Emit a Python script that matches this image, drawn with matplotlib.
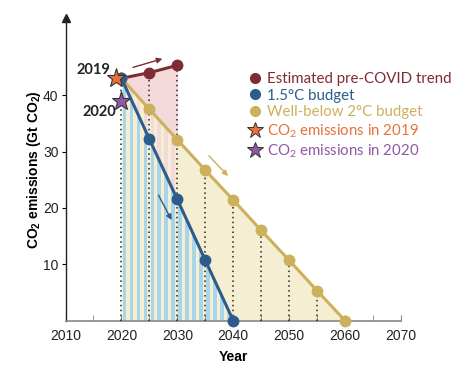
import matplotlib
matplotlib.use("Agg")
import matplotlib.pyplot as plt
import numpy as np
from matplotlib.lines import Line2D

plt.rcParams['mathtext.default'] = 'regular'

# ---- data ----
trend_years = [2020, 2025, 2030]
trend_vals = [43.0, 44.0, 45.3]
b15_years = [2020, 2025, 2030, 2035, 2040]
b15_vals = [43.0, 32.2, 21.5, 10.7, 0.0]
b2_years = [2020, 2025, 2030, 2035, 2040, 2045, 2050, 2055, 2060]
b2_vals = [43.0, 37.5, 32.1, 26.7, 21.4, 16.0, 10.7, 5.3, 0.0]
star2019 = (2019, 43.0)
star2020 = (2020, 39.0)
x_ticks = [2010, 2020, 2030, 2040, 2050, 2060, 2070]
y_ticks = [10, 20, 30, 40]

C_RED = '#7E2B36'
C_BLUE = '#2B5C8C'
C_GOLD = '#CDB05C'
C_ORANGE = '#E8703A'
C_PURPLE = '#9058A6'
C_PINK = '#F3D9D9'
C_YEL = '#F6EED2'
C_STRIPE = '#A8D5E8'

fig = plt.figure(figsize=(4.72, 3.71), dpi=100)
ax = fig.add_axes([0.1388, 0.1358, 0.7108, 0.8157])
ax.set_xlim(2010, 2070)
ax.set_ylim(0, 53.7)

period = 1.25
starts = np.arange(b15_years[0] + 0.2, b15_years[-1], period)

# fills
b2_on_trend = np.interp(trend_years, b2_years, b2_vals)
ax.fill_between(trend_years, b2_on_trend, trend_vals, color=C_PINK, lw=0, zorder=1)
ax.fill_between(b2_years, 0, b2_vals, color=C_YEL, lw=0, zorder=1)
# pink stripes under the trend region
trend_poly = ax.fill_between(trend_years, 0, trend_vals, color='none', lw=0, zorder=1)
pbars = ax.bar(starts, [max(trend_vals)] * len(starts), width=period * 0.5, align='edge',
               color=C_PINK, lw=0, zorder=1.2)
for b in pbars:
    b.set_clip_path(trend_poly.get_paths()[0], ax.transData)

poly = ax.fill_between(b15_years, 0, b15_vals, color=C_YEL, lw=0, zorder=1.5)
# blue stripes clipped to 1.5C region
bars = ax.bar(starts, [max(b15_vals)] * len(starts), width=period * 0.5, align='edge',
              color=C_STRIPE, lw=0, zorder=2)
path = poly.get_paths()[0]
for b in bars:
    b.set_clip_path(path, ax.transData)

# dotted verticals
grid_years = list(range(2020, 2060, 5))
for yr in grid_years:
    top = max(np.interp(yr, b2_years, b2_vals),
              np.interp(yr, trend_years, trend_vals) if yr <= trend_years[-1] else 0)
    ax.plot([yr, yr], [0, top], ls=(0, (1, 2.2)), color='#222222', lw=1.1, zorder=3)

# lines
ax.plot(trend_years, trend_vals, '-o', color=C_RED, lw=2.2, ms=7.5, zorder=5)
ax.plot(b2_years, b2_vals, '-o', color=C_GOLD, lw=2.2, ms=7.5, zorder=5, clip_on=False)
ax.plot(b15_years, b15_vals, '-o', color=C_BLUE, lw=2.2, ms=7.5, zorder=6, clip_on=False)
ax.plot(*star2019, marker='*', color=C_ORANGE, mec='#333333', mew=0.8, ms=14, zorder=7)
ax.plot(*star2020, marker='*', color=C_PURPLE, mec='#333333', mew=0.8, ms=14, zorder=7)

ax.annotate('2019', star2019, xytext=(-4, 6), textcoords='offset points', ha='right',
            va='center', fontsize=10.5, fontweight='bold', family='Lato', color='#222222')
ax.annotate('2020', star2020, xytext=(-4, -8), textcoords='offset points', ha='right',
            va='center', fontsize=10.5, fontweight='bold', family='Lato', color='#222222')

# arrows
ax.annotate('', xy=(2027.8, 46.6), xytext=(2021.6, 44.8),
            arrowprops=dict(arrowstyle='-|>', color=C_RED, lw=1.0, mutation_scale=8))
ax.annotate('', xy=(2039.4, 25.3), xytext=(2035.3, 29.6),
            arrowprops=dict(arrowstyle='-|>', color=C_GOLD, lw=1.0, mutation_scale=8))
ax.annotate('', xy=(2029.2, 17.4), xytext=(2026.4, 22.7),
            arrowprops=dict(arrowstyle='-|>', color=C_BLUE, lw=1.0, mutation_scale=8))

# axes styling
for s in ['top', 'right']:
    ax.spines[s].set_visible(False)
ax.spines['left'].set_color('#222222')
ax.spines['bottom'].set_color('#888888')
ax.spines['left'].set_linewidth(1.0)
ax.spines['bottom'].set_linewidth(1.2)
ax.plot([2010], [53.7], marker='^', color='#222222', ms=6, clip_on=False, zorder=8)
ax.set_xticks(x_ticks)
ax.set_xticks(list(range(2015, 2070, 10)), minor=True)
ax.tick_params(axis='x', which='both', direction='in', length=4, color='#888888',
               labelsize=10, pad=6)
ax.set_yticks(y_ticks)
ax.tick_params(axis='y', direction='out', length=3, labelsize=10, pad=2)
for lab in ax.get_xticklabels() + ax.get_yticklabels():
    lab.set_family('Liberation Sans')
    lab.set_color('#222222')
ax.set_xlabel('Year', fontsize=10, fontweight='bold', family='Liberation Sans', labelpad=5)
ax.set_ylabel('CO$_2$ emissions (Gt CO$_2$)', fontsize=10, fontweight='bold',
              family='Liberation Sans', labelpad=0)

# legend
handles = [
    Line2D([], [], marker='o', ls='', color=C_RED, ms=7),
    Line2D([], [], marker='o', ls='', color=C_BLUE, ms=7),
    Line2D([], [], marker='o', ls='', color=C_GOLD, ms=7),
    Line2D([], [], marker='*', ls='', color=C_ORANGE, mec='#333333', mew=0.7, ms=12),
    Line2D([], [], marker='*', ls='', color=C_PURPLE, mec='#333333', mew=0.7, ms=12),
]
labels = ['Estimated pre-COVID trend', '1.5°C budget', 'Well-below 2°C budget',
          'CO$_2$ emissions in 2019', 'CO$_2$ emissions in 2020']
leg = fig.legend(handles, labels, loc='upper left', bbox_to_anchor=(247 / 472, 1 - 72 / 371),
                 frameon=False, prop={'family': 'Lato', 'size': 10.8}, handlelength=1.0,
                 handletextpad=0.35, labelspacing=0.18, borderpad=0, borderaxespad=0)
for t, c in zip(leg.get_texts(), [C_RED, C_BLUE, C_GOLD, C_ORANGE, C_PURPLE]):
    t.set_color(c)

fig.savefig('out.png', dpi=100)
